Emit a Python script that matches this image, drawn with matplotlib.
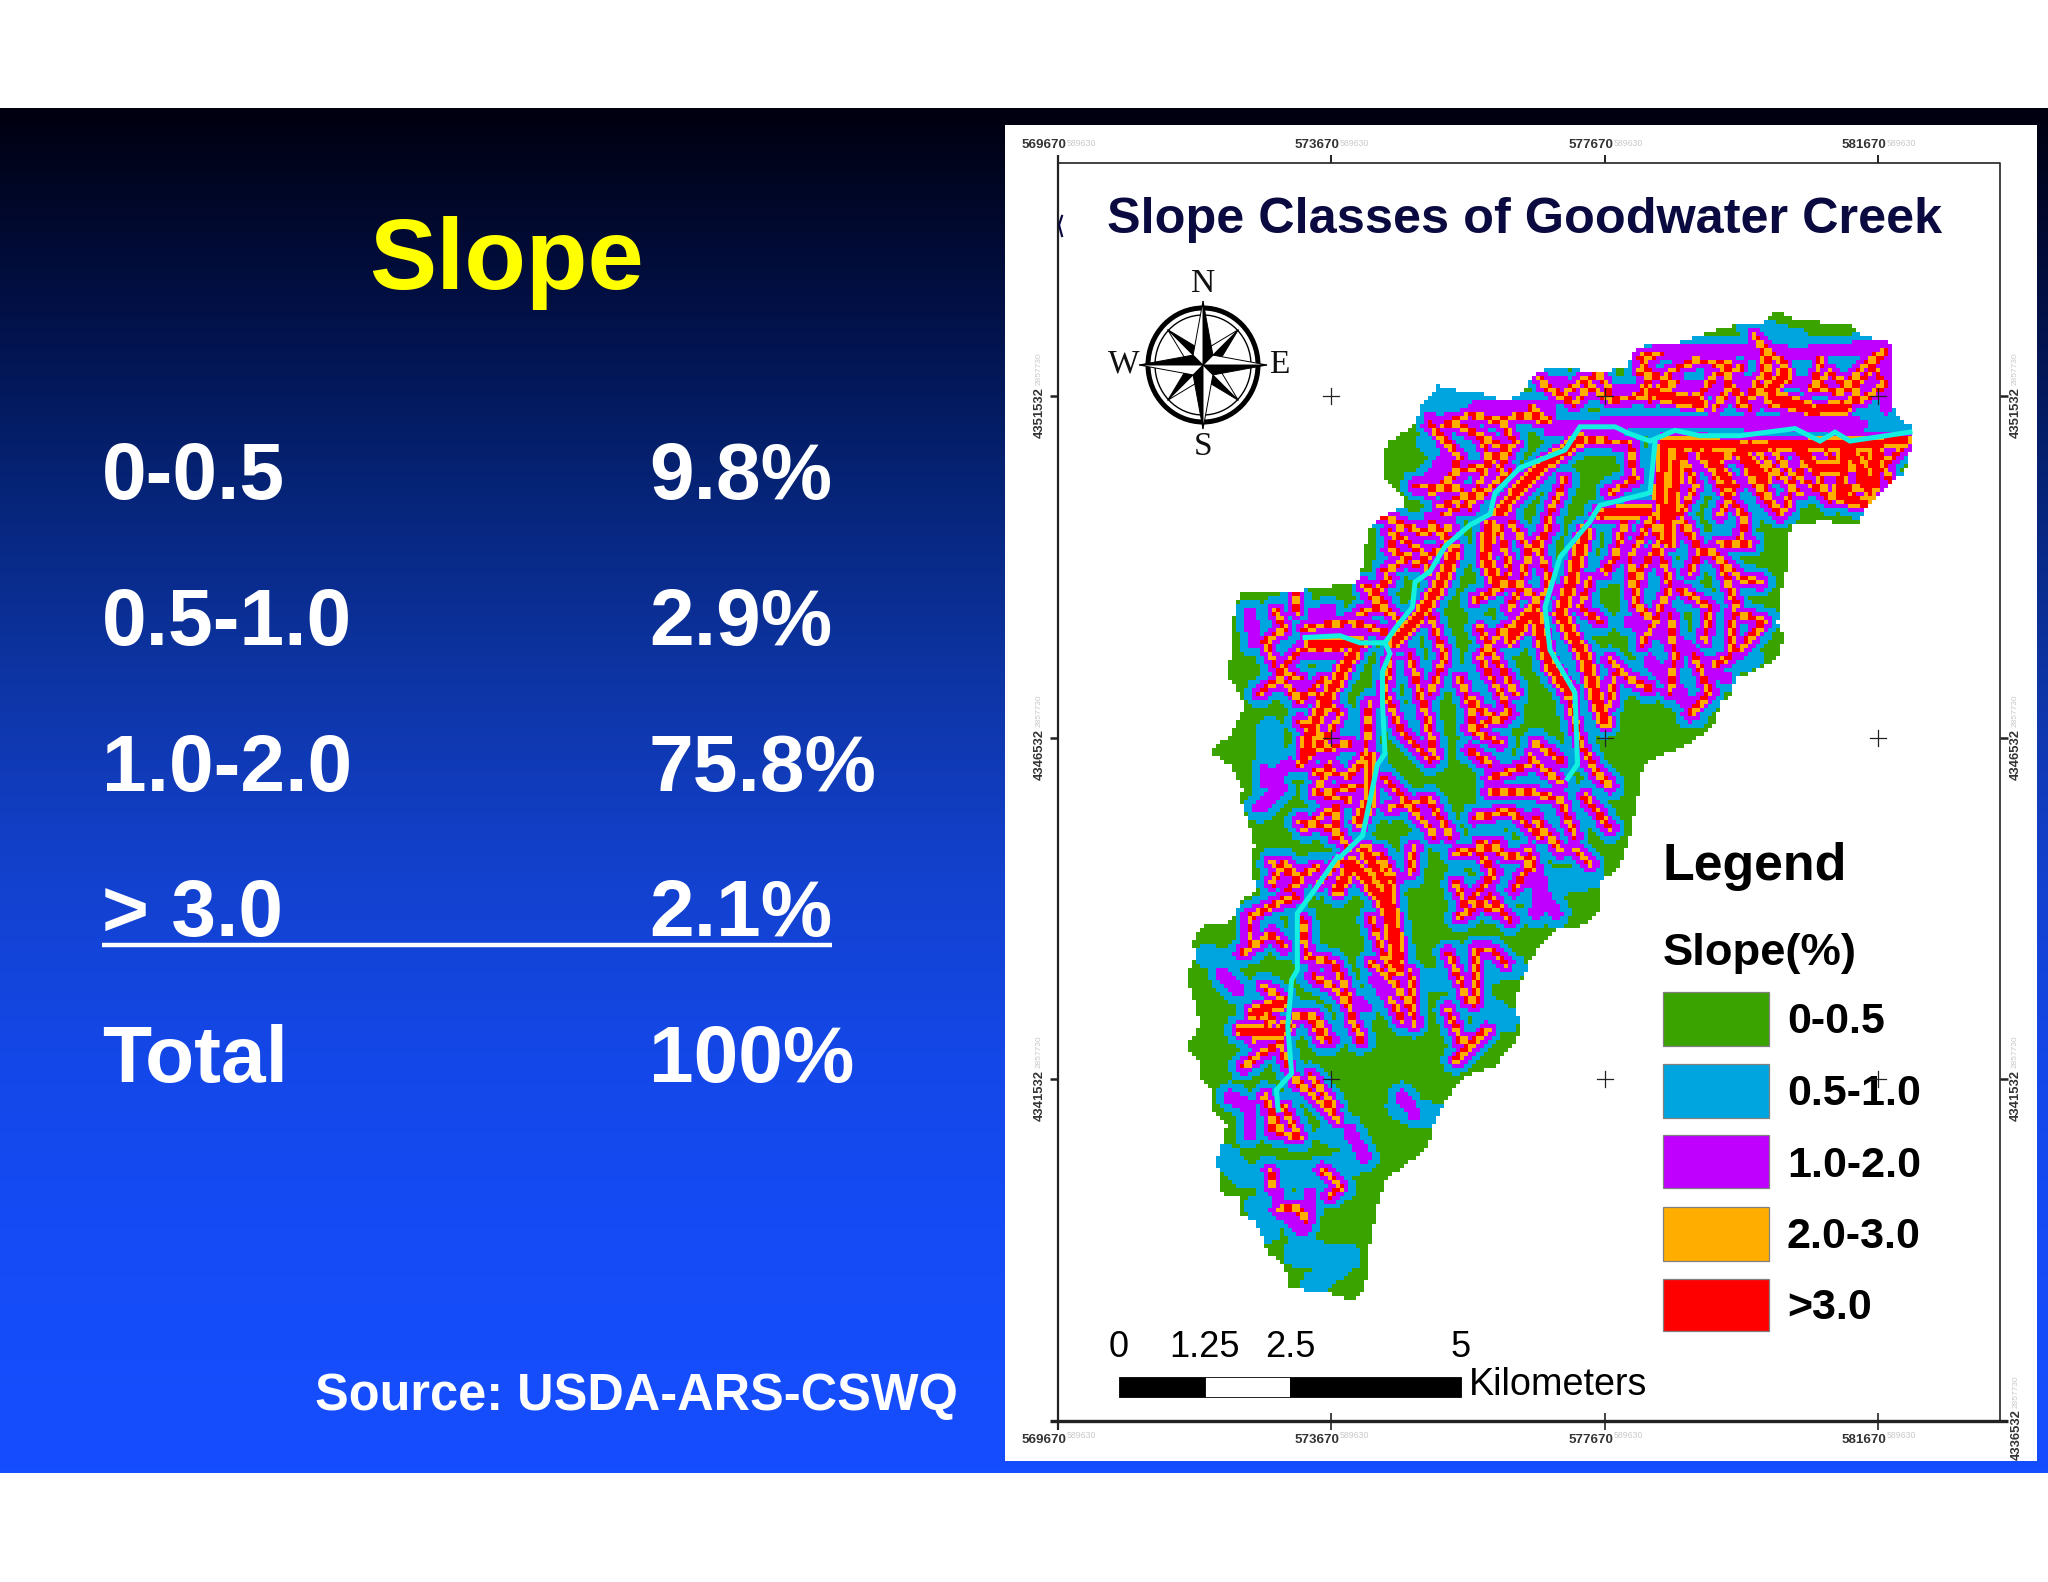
import matplotlib
matplotlib.use('Agg')

import matplotlib.colors  as mcolors
import matplotlib.patches as patches
import matplotlib.path    as mpath
import matplotlib.pyplot  as plt
import numpy              as np

plt.rcParams['font.family'] = ['Liberation Sans', 'DejaVu Sans']

# slide text
slide_title  = 'Slope'
slope_ranges = ['0-0.5', '0.5-1.0', '1.0-2.0', '> 3.0', 'Total']
slope_shares = ['9.8%', '2.9%', '75.8%', '2.1%', '100%']
source_text  = 'Source: USDA-ARS-CSWQ'

# map text
map_title     = 'Slope Classes of Goodwater Creek'
x_tick_labels = ['569670', '573670', '577670', '581670']
y_tick_labels = ['4351532', '4346532', '4341532']
corner_label  = '4336532'
ghost_x_label = '589630'
ghost_y_label = '2857730'
legend_labels = ['0-0.5', '0.5-1.0', '1.0-2.0', '2.0-3.0', '>3.0']
scale_labels  = ['0', '1.25', '2.5', '5']
scale_km      = [0, 1.25, 2.5, 5]

# colours
green  = '#3ba300'
blue   = '#00a5e0'
purple = '#c000ff'
orange = '#ffae00'
red    = '#ff0000'
cyan   = '#14f0e0'
navy   = '#0a0a40'
legend_colors = [green, blue, purple, orange, red]

bg_stops = ['#00000f', '#021045', '#06257a', '#0e36a8', '#1342d0',
            '#1448ea', '#154cf8', '#154eff']

# map outline and streams in two crops
outline_north_right = [(1255, 30), (1290, 55), (1400, 70), (1425, 100), (1480, 120),
                       (1480, 200), (1480, 290), (1500, 330), (1522, 355), (1522, 420),
                       (1510, 480), (1470, 530), (1430, 580), (1415, 630), (1350, 620),
                       (1290, 625), (1278, 650), (1280, 720), (1265, 800), (1255, 910),
                       (1270, 950), (1250, 1010), (1210, 1040), (1170, 1060), (1165, 1100),
                       (1140, 1130), (1130, 1190), (1080, 1240), (1000, 1290), (985, 1310),
                       (975, 1400)]
outline_south       = [(1250, 10), (1225, 85), (1180, 120), (1175, 215), (1115, 270),
                       (1075, 260), (1020, 310), (990, 370), (950, 490), (970, 550),
                       (960, 600), (900, 680), (840, 700), (800, 735), (770, 790),
                       (735, 870), (730, 915), (660, 985), (620, 1010), (595, 1090),
                       (570, 1240), (565, 1315), (555, 1350), (530, 1390), (500, 1365),
                       (435, 1358), (365, 1340), (350, 1270), (310, 1245), (275, 1140),
                       (240, 1125), (240, 1070), (190, 1065), (175, 960), (200, 860),
                       (165, 810), (155, 730), (130, 720), (125, 660), (95, 620),
                       (130, 560), (120, 490), (95, 420), (120, 340), (110, 310),
                       (140, 255), (210, 245), (240, 180), (280, 150), (265, 90),
                       (265, 0)]
outline_north_left  = [(215, 1568), (200, 1480), (180, 1400), (185, 1370), (160, 1300),
                       (120, 1268), (165, 1210), (190, 1130), (155, 1050), (165, 960),
                       (165, 900), (180, 815), (290, 815), (415, 790), (430, 720),
                       (435, 640), (460, 610), (510, 575), (500, 540), (465, 495),
                       (465, 440), (480, 395), (530, 350), (540, 300), (575, 240),
                       (620, 255), (660, 260), (710, 285), (745, 260), (760, 220),
                       (790, 190), (840, 185), (880, 205), (950, 190), (975, 130),
                       (1050, 120), (1100, 100), (1150, 75), (1225, 65)]

stream_main_north = [(1520, 370), (1400, 395), (1370, 370), (1340, 395), (1290, 360),
                     (1180, 380), (1100, 380), (1050, 365), (1000, 395), (960, 375),
                     (930, 355), (860, 355), (830, 420), (740, 470), (690, 540),
                     (680, 600), (640, 630), (590, 690), (560, 760), (530, 790),
                     (525, 860), (490, 920), (470, 960), (420, 960), (380, 940),
                     (310, 945)]
stream_fork_north = [(470, 960), (480, 990), (465, 1040), (465, 1130), (470, 1270),
                     (455, 1300), (440, 1400), (425, 1500), (380, 1560)]
stream_fork_south = [(490, 50), (430, 150), (385, 220), (385, 390), (370, 420),
                     (360, 560), (370, 700), (330, 750), (335, 810)]
stream_east_north = [(1010, 400), (1000, 540), (900, 575), (880, 620), (820, 720),
                     (790, 860), (800, 980), (850, 1100), (855, 1300), (835, 1340)]

# red core strands
heavy_north = [[(1240, 270), (1290, 290), (1330, 310), (1390, 300)],
               [(1040, 400), (1200, 410), (1350, 405), (1510, 395)],
               [(860, 390), (790, 460), (740, 530), (700, 590)],
               [(680, 630), (670, 720), (690, 780)],
               [(610, 700), (580, 800), (540, 880), (490, 960)],
               [(870, 650), (840, 800), (820, 880), (870, 1000), (890, 1100), (910, 1180)],
               [(900, 600), (990, 590)],
               [(770, 880), (800, 1020), (840, 1100)],
               [(760, 880), (720, 950)],
               [(410, 980), (360, 1100), (320, 1210), (310, 1270)],
               [(440, 1280), (440, 1400), (420, 1460)],
               [(320, 960), (420, 960)],
               [(1030, 400), (1020, 540), (1040, 680)],
               [(1390, 400), (1380, 550), (1430, 570)],
               [(1450, 400), (1450, 520)],
               [(1300, 410), (1330, 470), (1390, 470)],
               [(1180, 420), (1230, 500)],
               [(1110, 410), (1160, 520)],
               [(1400, 410), (1440, 540)],
               [(1060, 400), (1040, 620)],
               [(1000, 260), (1100, 290)],
               [(1240, 260), (1270, 200)]]
heavy_south = [[(560, 30), (620, 140), (650, 350)],
               [(240, 570), (330, 580), (360, 560)],
               [(270, 520), (340, 490)],
               [(490, 150), (530, 70), (580, 140), (620, 200), (650, 390)]]

# speckled orange and red strands
minor_north = [[(790, 240), (850, 290), (880, 240), (920, 280), (980, 270), (1000, 210),
                (980, 160), (1020, 150)],
               [(1040, 280), (1100, 270), (1130, 210), (1180, 190)],
               [(1180, 290), (1240, 240), (1220, 120), (1270, 190)],
               [(1240, 290), (1320, 310), (1400, 290), (1420, 230)],
               [(1340, 170), (1330, 240), (1380, 260), (1450, 150)],
               [(1080, 400), (1120, 470), (1170, 520), (1140, 600)],
               [(1120, 440), (1180, 430), (1220, 510), (1260, 600)],
               [(1200, 400), (1250, 480), (1300, 540)],
               [(1290, 410), (1330, 480), (1360, 560)],
               [(1350, 410), (1400, 540), (1440, 500)],
               [(1420, 400), (1450, 490), (1500, 420)],
               [(860, 390), (960, 400), (970, 500), (920, 540)],
               [(830, 500), (800, 600), (780, 700), (800, 800), (760, 870)],
               [(940, 590), (1000, 590), (1020, 680), (980, 760), (970, 850)],
               [(1100, 700), (1140, 720), (1170, 850), (1160, 1000), (1130, 1020)],
               [(1020, 700), (1040, 800), (1010, 900), (985, 960)],
               [(1140, 680), (1200, 680)],
               [(760, 880), (700, 930), (660, 1000), (700, 1100), (720, 1160), (640, 1200)],
               [(660, 920), (690, 1000), (730, 1100)],
               [(600, 340), (660, 380), (680, 450), (650, 540), (580, 580)],
               [(640, 370), (720, 420), (700, 470)],
               [(530, 520), (620, 530), (640, 580)],
               [(480, 650), (540, 700), (560, 760)],
               [(460, 600), (540, 650), (600, 640)],
               [(480, 780), (440, 830), (500, 900)],
               [(250, 870), (270, 920), (230, 960), (250, 1020)],
               [(300, 1060), (260, 1040), (300, 980), (380, 980)],
               [(310, 920), (400, 900), (470, 930)],
               [(290, 820), (295, 870)],
               [(480, 1000), (470, 1100), (500, 1200), (560, 1290)],
               [(520, 1000), (550, 1150), (570, 1280)],
               [(440, 1130), (430, 1280), (400, 1330), (330, 1320)],
               [(470, 1340), (530, 1430), (570, 1500)],
               [(310, 1480), (370, 1420), (370, 1500)],
               [(650, 1120), (640, 1200), (700, 1240)],
               [(680, 1380), (770, 1380), (820, 1400), (850, 1500)],
               [(650, 1450), (720, 1430), (780, 1500)],
               [(840, 1120), (860, 1240), (900, 1340)],
               [(770, 1240), (820, 1290)],
               [(880, 1300), (920, 1360)],
               [(980, 200), (1050, 230), (1000, 280), (1040, 200), (1090, 170), (1160, 180),
                (1150, 270)],
               [(1210, 100), (1240, 180), (1200, 260), (1280, 220), (1260, 160)],
               [(1320, 250), (1360, 200), (1400, 250), (1440, 200), (1470, 140)],
               [(1440, 170), (1470, 240), (1420, 280)],
               [(780, 220), (820, 270), (860, 230), (900, 210), (920, 260)],
               [(760, 300), (800, 340), (740, 320), (700, 340), (640, 320), (590, 350)],
               [(1130, 300), (1160, 240), (1200, 300)],
               [(560, 350), (620, 440), (600, 500), (560, 540)],
               [(700, 330), (730, 400), (660, 470), (610, 480)],
               [(720, 480), (650, 560), (590, 600)],
               [(500, 640), (480, 700), (520, 720), (470, 760)],
               [(430, 800), (470, 850), (420, 880)],
               [(560, 620), (600, 680), (530, 740)],
               [(1060, 410), (1090, 520), (1060, 600), (1100, 700)],
               [(1100, 410), (1150, 540), (1190, 610), (1180, 680)],
               [(1180, 410), (1200, 500), (1250, 590)],
               [(1240, 410), (1290, 500), (1270, 590)],
               [(1310, 410), (1300, 500), (1350, 540)],
               [(1380, 410), (1430, 480), (1400, 560)],
               [(1460, 420), (1480, 510)],
               [(1060, 620), (1100, 700), (1080, 760)],
               [(1000, 620), (960, 720), (970, 850), (1000, 890)],
               [(1120, 700), (1180, 780), (1220, 790)],
               [(1060, 810), (1120, 860), (1110, 950)],
               [(1180, 880), (1230, 900), (1180, 980)],
               [(1090, 1000), (1120, 1100), (1080, 1160)],
               [(1040, 880), (1050, 1000), (1040, 1100)],
               [(950, 620), (930, 720), (910, 760)],
               [(720, 620), (760, 700), (800, 640)],
               [(700, 640), (720, 760), (690, 800)],
               [(650, 840), (720, 790), (770, 830)],
               [(760, 700), (740, 800), (720, 860)],
               [(880, 780), (860, 860), (900, 900)],
               [(920, 1010), (960, 1060), (1000, 1090)],
               [(930, 1050), (920, 1130)],
               [(620, 1060), (640, 1130), (700, 1180)],
               [(560, 880), (590, 1000), (560, 1100)],
               [(640, 1260), (680, 1300)],
               [(760, 1280), (820, 1350)],
               [(680, 1340), (760, 1300)],
               [(870, 1390), (920, 1480)],
               [(770, 1450), (820, 1540)],
               [(660, 1520), (720, 1560)],
               [(220, 1100), (260, 1060), (300, 1120), (350, 1060)],
               [(330, 1100), (380, 1160), (340, 1260), (400, 1240)],
               [(300, 1180), (350, 1230), (300, 1300)],
               [(360, 1300), (330, 1380), (400, 1400)],
               [(300, 1460), (370, 1480), (400, 1540)],
               [(350, 1380), (420, 1360)],
               [(480, 1420), (560, 1400), (600, 1500)]]
minor_south = [[(320, 70), (380, 110), (440, 80)],
               [(580, 240), (610, 340), (630, 400)],
               [(690, 20), (680, 100)],
               [(260, 330), (260, 230), (330, 190), (380, 170)],
               [(240, 340), (320, 280), (350, 320)],
               [(400, 240), (410, 350), (480, 370), (510, 440), (530, 550)],
               [(430, 410), (490, 450), (520, 500), (550, 600)],
               [(245, 680), (290, 640), (340, 610), (360, 680)],
               [(380, 530), (430, 530), (470, 600)],
               [(380, 720), (430, 770), (490, 840)],
               [(310, 790), (320, 870), (380, 890)],
               [(350, 800), (390, 890)],
               [(800, 40), (850, 30), (910, 10)],
               [(810, 230), (890, 170), (940, 240)],
               [(800, 130), (830, 220)],
               [(780, 340), (830, 480), (850, 490), (850, 330), (890, 330), (930, 370)],
               [(780, 510), (810, 600), (850, 610), (880, 570), (800, 660)],
               [(630, 480), (660, 540)],
               [(990, 30), (1000, 90)],
               [(1110, 30), (1150, 70)],
               [(450, 990), (500, 1040), (470, 1065)],
               [(335, 1110), (380, 1100), (410, 1140)],
               [(315, 1000), (320, 1040)],
               [(320, 130), (350, 70), (400, 120), (360, 150)],
               [(440, 130), (500, 60), (560, 110)],
               [(600, 40), (640, 120), (610, 200)],
               [(860, 40), (900, 100), (840, 180), (900, 210)],
               [(920, 40), (1000, 60), (950, 150)],
               [(270, 520), (320, 540), (270, 600)],
               [(300, 440), (350, 480), (310, 520)],
               [(420, 530), (450, 600)],
               [(580, 370), (640, 430), (680, 500)],
               [(680, 400), (690, 550)],
               [(420, 710), (480, 800)],
               [(300, 770), (340, 860)]]

# strands with no orange or red in them
faint_north = [[(800, 360), (1000, 340), (1420, 350)],
               [(790, 230), (950, 260), (1100, 240), (1300, 230), (1470, 220)],
               [(650, 300), (800, 300)],
               [(980, 150), (1150, 140), (1300, 150), (1460, 130)],
               [(560, 330), (600, 420), (560, 500)],
               [(1470, 120), (1470, 300)],
               [(1000, 1010), (1060, 1100), (1090, 1160)],
               [(960, 900), (1060, 960), (1150, 1060)],
               [(230, 1350), (280, 1300)],
               [(220, 1420), (260, 1370), (230, 1320)],
               [(200, 880), (210, 960)],
               [(330, 880), (360, 870)]]
faint_south = [[(190, 400), (230, 450)],
               [(210, 770), (260, 800), (260, 880)],
               [(310, 990), (340, 1100), (400, 1170)],
               [(420, 1060), (410, 1130)],
               [(520, 870), (560, 950)],
               [(420, 410), (560, 500)],
               [(590, 420), (640, 500)],
               [(660, 770), (690, 820)],
               [(1000, 120), (1060, 220)],
               [(1000, 50), (1020, 130), (1010, 220)]]

# blue patches in the low ground
blue_north = [[(1200, 80), (1300, 120), (1100, 190)],
              [(1430, 310), (1500, 340)],
              [(580, 290), (560, 400)],
              [(240, 1280), (240, 1200)],
              [(570, 270), (680, 280)],
              [(940, 1050), (1200, 1000)]]
blue_south = [[(150, 350), (200, 370)],
              [(200, 950), (250, 1010), (400, 1000), (560, 960)],
              [(380, 1240), (520, 1250), (430, 1330)],
              [(280, 1100), (310, 1170)],
              [(650, 800), (750, 830)],
              [(880, 500), (930, 540)],
              [(950, 380), (740, 420)],
              [(470, 880), (520, 900)],
              [(1050, 130), (1150, 110)]]


def from_north_crop(points):
    return [(x / 2 + 1150, y / 2.8 + 300) for x, y in points]


def from_south_crop(points):
    return [(x / 2.613 + 1150, y / 3 + 840) for x, y in points]


def strand_distance(strands, xx, yy):
    """Distance of every grid cell to the nearest strand"""

    best = np.full(xx.shape, 1e9)
    for strand in strands:
        for (x0, y0), (x1, y1) in zip(strand[:-1], strand[1:]):
            dx, dy = x1 - x0, y1 - y0
            t      = ((xx - x0) * dx + (yy - y0) * dy) / (dx * dx + dy * dy)
            t      = np.clip(t, 0, 1)
            best   = np.minimum(best, np.hypot(xx - x0 - t * dx, yy - y0 - t * dy))
    return best


fig = plt.figure(figsize=(20.48, 15.82), dpi=100)
ax  = fig.add_axes([0, 0, 1, 1])

# slide background
cmap = mcolors.LinearSegmentedColormap.from_list('slide', bg_stops)
ax.imshow(np.linspace(0, 1, 256).reshape(-1, 1), cmap=cmap, aspect='auto',
          extent=[0, 2048, 1473, 108], zorder=0)

# left side text
ax.text(507, 289, slide_title, color='#ffff00', fontsize=72.6, fontweight='bold',
        ha='center', va='baseline')
baselines = [499, 645, 791, 936, 1082]
for label, share, y in zip(slope_ranges, slope_shares, baselines):
    ax.text(102, y, label, color='white', fontsize=57.9, fontweight='bold', va='baseline')
    ax.text(649, y, share, color='white', fontsize=57.9, fontweight='bold', va='baseline')
ax.plot([102, 832], [945, 945], color='white', lw=3.2, solid_capstyle='butt')
ax.text(315, 1410, source_text, color='white', fontsize=36.4, fontweight='bold', va='baseline')

# white map panel
ax.add_patch(patches.Rectangle((1005, 125), 1032, 1336, fc='white', ec='none', zorder=1))

# frame and ticks
frame_kw = dict(color='#222222', zorder=2, solid_capstyle='butt')
ax.plot([1058, 2000, 2000], [163, 163, 1421], lw=1.2, **frame_kw)
ax.plot([1058, 1058], [155, 1430], lw=1.6, **frame_kw)
ax.plot([1050, 2008], [1421, 1421], lw=2.4, **frame_kw)

x_ticks = [1058, 1331, 1605, 1878]
y_ticks = [396, 738, 1079]
for x, label in zip(x_ticks, x_tick_labels):
    ax.plot([x, x], [155, 163], lw=1.4, **frame_kw)
    ax.plot([x, x], [1413, 1430], lw=1.2, **frame_kw)
    ax.text(x + 8, 145, label, fontsize=9.6, fontweight='bold', color='#333333',
            ha='right', va='center', zorder=3)
    ax.text(x + 9, 143, ghost_x_label, fontsize=6.3, color='#c9c9c9', va='center', zorder=3)
    ax.text(x + 8, 1440, label, fontsize=9.6, fontweight='bold', color='#333333',
            ha='right', va='center', zorder=3)
    ax.text(x + 9, 1435, ghost_x_label, fontsize=6.3, color='#c9c9c9', va='center', zorder=3)

rot_kw = dict(rotation=90, rotation_mode='anchor', ha='left', va='center', zorder=3)
for y, label in zip(y_ticks, y_tick_labels):
    ax.plot([1050, 1058], [y, y], lw=1.8, **frame_kw)
    ax.plot([2000, 2008], [y, y], lw=1.8, **frame_kw)
    for x in [1040, 2016]:
        ax.text(x, y + 42, label, fontsize=9.4, fontweight='bold', color='#333333', **rot_kw)
        ax.text(x - 1, y - 11, ghost_y_label, fontsize=6.0, color='#c9c9c9', **rot_kw)
ax.text(2017, 1460, corner_label, fontsize=9.4, fontweight='bold', color='#333333',
        clip_on=True, **rot_kw)
ax.text(2016, 1408, ghost_y_label, fontsize=6.0, color='#c9c9c9', **rot_kw)

# leftover mark against the frame
ax.plot([1062, 1059, 1062], [216, 225, 236], color=navy, lw=1.6, zorder=3)

ax.text(1107, 233, map_title, color=navy, fontsize=36.3, fontweight='bold',
        va='baseline', zorder=3)

# watershed raster, classed by distance from the strands read above
outline = (from_north_crop(outline_north_right) + from_south_crop(outline_south)
           + from_north_crop(outline_north_left))
heavy   = [from_north_crop(p) for p in heavy_north] + [from_south_crop(p) for p in heavy_south]
minor   = [from_north_crop(p) for p in minor_north] + [from_south_crop(p) for p in minor_south]
faint   = [from_north_crop(p) for p in faint_north] + [from_south_crop(p) for p in faint_south]
low     = [from_north_crop(p) for p in blue_north] + [from_south_crop(p) for p in blue_south]
streams = [from_north_crop(stream_main_north), from_north_crop(stream_fork_north),
           from_south_crop(stream_fork_south), from_north_crop(stream_east_north)]

cell     = 4
x_edges  = np.arange(1180, 1924, cell)
y_edges  = np.arange(300, 1316, cell)
xx, yy   = np.meshgrid(x_edges[:-1] + cell / 2, y_edges[:-1] + cell / 2)
ii, jj   = np.meshgrid(np.arange(xx.shape[1]), np.arange(xx.shape[0]))

d_heavy = strand_distance(heavy, xx, yy)
d_minor = strand_distance(minor, xx, yy)
d_faint = strand_distance(faint, xx, yy)
d_low   = strand_distance(low, xx, yy)

classes = np.zeros(xx.shape, dtype=int)
classes[(d_low < 13) | (d_faint < 15) | (d_minor < 15) | (d_heavy < 17)] = 1
classes[(d_faint < 7) | (d_minor < 8.5) | (d_heavy < 10.5)] = 2
classes[(d_minor < 3.4) | (d_heavy < 7)] = 3
speckle = (ii // 2 + jj // 2) % 2 == 0
classes[(d_minor < 3.4) & speckle] = 4
classes[d_heavy < 4] = 4

inside  = mpath.Path(outline).contains_points(np.c_[xx.ravel(), yy.ravel()]).reshape(xx.shape)
raster  = np.ma.masked_where(~inside, classes)
map_cmap = mcolors.ListedColormap(legend_colors)
map_cmap.set_bad(alpha=0)
ax.imshow(raster, cmap=map_cmap, vmin=-0.5, vmax=4.5, aspect='auto', interpolation='nearest',
          extent=[x_edges[0], x_edges[-1], y_edges[-1], y_edges[0]], zorder=3)

for stream in streams:
    xs, ys = zip(*stream)
    ax.plot(xs, ys, color=cyan, lw=3.6, zorder=3.6, solid_joinstyle='miter')

# reference crosses
for x in x_ticks[1:]:
    for y in y_ticks:
        ax.plot([x - 8, x + 8], [y, y], color='#222222', lw=0.9, zorder=5)
        ax.plot([x, x], [y - 8, y + 8], color='#222222', lw=0.9, zorder=5)

# compass
cx, cy = 1203, 365
ax.add_patch(patches.Ellipse((cx, cy), 110, 114, fc='none', ec='black', lw=3.6, zorder=6))
ax.add_patch(patches.Ellipse((cx, cy), 96, 100, fc='none', ec='black', lw=1.0, zorder=6))
for radius, inner, start in [(50, 14, 45), (64, 14, 0)]:
    for k in range(4):
        theta = np.deg2rad(start + 90 * k)
        tip   = (cx + radius * np.cos(theta), cy + radius * np.sin(theta))
        for side, face in [(1, 'black'), (-1, 'white')]:
            off  = theta + side * np.deg2rad(45)
            base = (cx + inner * np.cos(off), cy + inner * np.sin(off))
            ax.add_patch(patches.Polygon([(cx, cy), tip, base], closed=True, fc=face,
                                         ec='black', lw=0.7, zorder=7))
serif = ['Liberation Serif', 'DejaVu Serif']
for letter, x, y in [('N', 1203, 284), ('S', 1203, 447), ('W', 1124, 364), ('E', 1279, 365)]:
    ax.text(x, y, letter, family=serif, fontsize=24, color='#111111',
            ha='center', va='center', zorder=7)

# legend
ax.text(1663, 880, 'Legend', fontsize=37.4, fontweight='bold', color='black', va='baseline', zorder=6)
ax.text(1663, 965, 'Slope(%)', fontsize=32.7, fontweight='bold', color='black', va='baseline', zorder=6)
swatch_tops    = [992, 1064, 1135, 1207, 1279]
swatch_heights = [54, 54, 53, 54, 52]
text_baselines = [1033, 1105, 1177, 1248, 1319]
for color, label, top, height, base in zip(legend_colors, legend_labels, swatch_tops,
                                           swatch_heights, text_baselines):
    ax.add_patch(patches.Rectangle((1663, top), 106, height, fc=color, ec='#808080',
                                   lw=0.9, zorder=4))
    ax.text(1787, base, label, fontsize=31, fontweight='bold', color='black',
            va='baseline', zorder=4)

# scale bar
km_to_px = (1461 - 1119) / scale_km[-1]
edges    = [1119 + km * km_to_px for km in scale_km]
for left, right, face in zip(edges[:-1], edges[1:], ['black', 'white', 'black']):
    ax.add_patch(patches.Rectangle((left, 1377), right - left, 20, fc=face, ec='black',
                                   lw=0.6, zorder=4))
for label, x in zip(scale_labels, edges):
    ax.text(x, 1357, label, fontsize=26, color='black', ha='center', va='baseline', zorder=4)
ax.text(1469, 1395, 'Kilometers', fontsize=27.2, color='black', va='baseline', zorder=4)

ax.set_xlim(0, 2048)
ax.set_ylim(1582, 0)
ax.axis('off')

fig.savefig('out.png', dpi=100)
